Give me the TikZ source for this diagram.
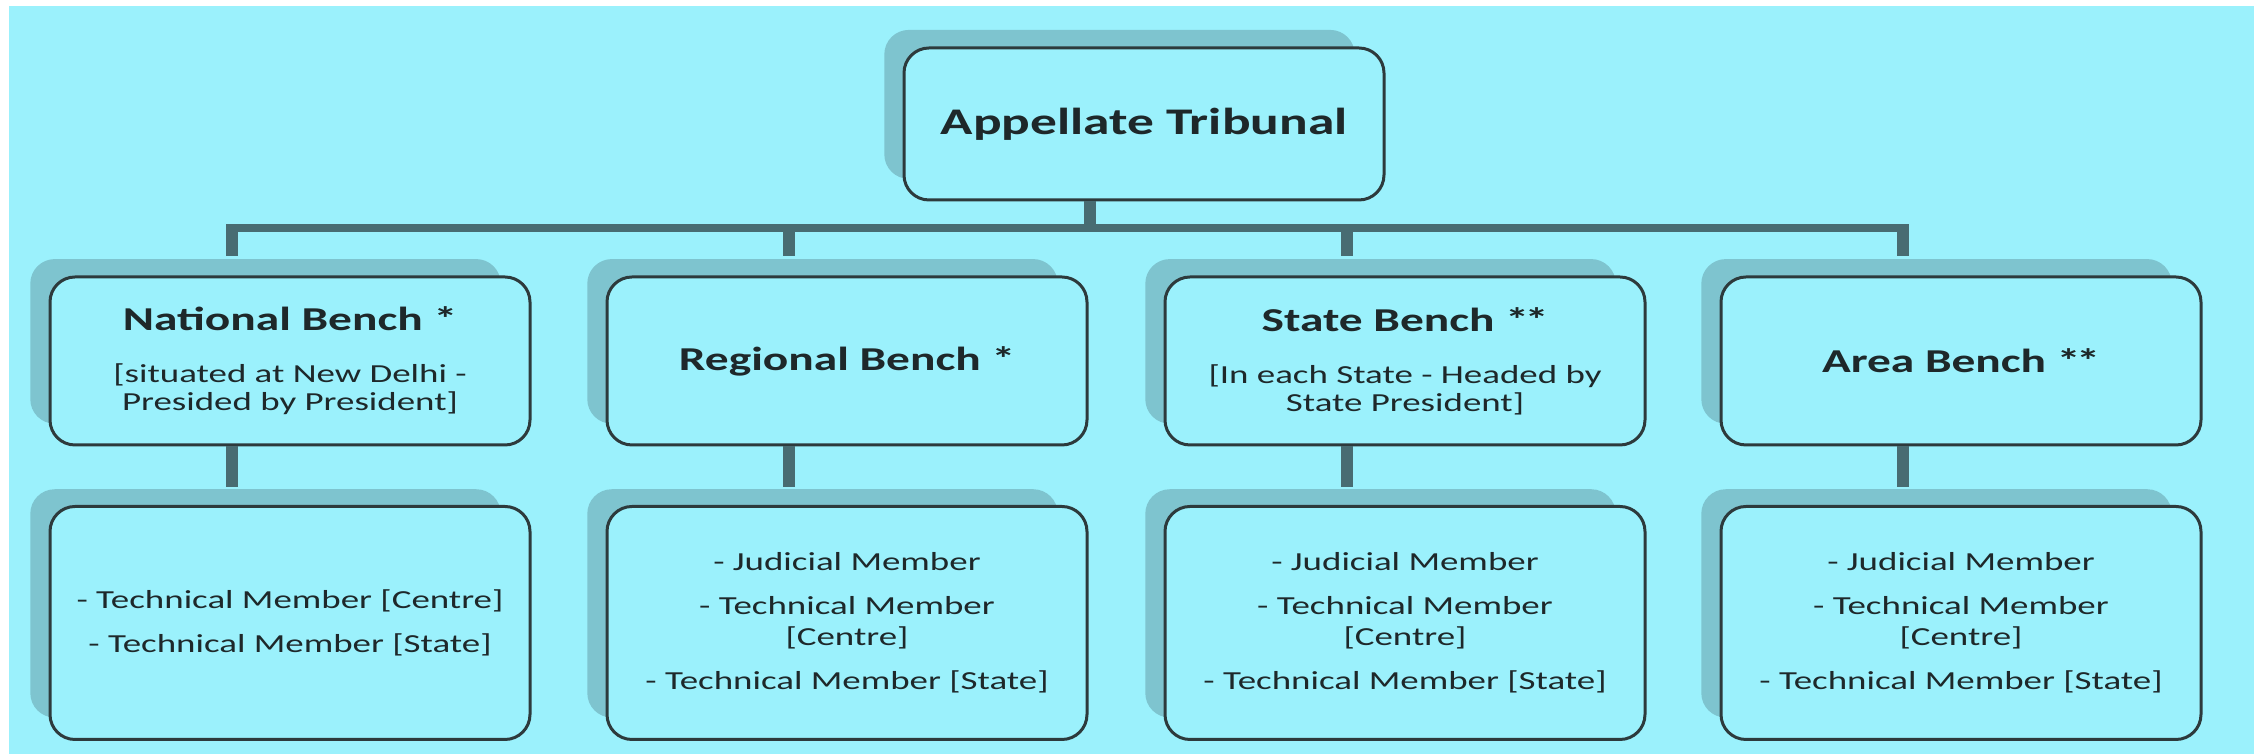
\documentclass[tikz,border=0pt]{standalone}
\usepackage{fontspec}
\setmainfont{Carlito}[FakeStretch=1.42]
\usepackage{xcolor}
\definecolor{tbg}{RGB}{155,241,252}
\definecolor{tshadow}{RGB}{126,196,207}
\definecolor{tline}{RGB}{72,108,114}
\definecolor{tborder}{RGB}{45,58,60}
\definecolor{ttext}{RGB}{30,40,42}
\usetikzlibrary{shadows}

\newcommand{\topfont}{\fontsize{10.7}{12}\selectfont\bfseries}
\newcommand{\headfont}{\fontsize{9.5}{11}\selectfont\bfseries}
\newcommand{\subfont}{\fontsize{7.4}{8}\selectfont}
\newcommand{\memfont}{\fontsize{7.4}{8.8}\selectfont}
\newcommand{\twostars}{*\kern-1.2pt*}

\begin{document}
\begin{tikzpicture}[x=0.1mm, y=-0.1mm,
  tbox/.style={draw=tborder, line width=0.3mm, fill=tbg, rounded corners=2.5mm, minimum width=48mm, inner sep=0pt, align=center, text=ttext,
    drop shadow={shadow xshift=-2.5mm, shadow yshift=2mm, shadow scale=0.98, fill=tshadow, opacity=1}},
  ttop/.style={tbox, minimum height=15.2mm, font=\topfont},
  tbench/.style={tbox, minimum height=16.8mm, font=\subfont},
  tmembers/.style={tbox, minimum height=23.3mm, font=\memfont},
  stem/.style={draw=tline, line width=1.2mm},
  bar/.style={draw=tline, line width=0.8mm}
]
  \useasboundingbox (0,0) rectangle (2260,754);
  \fill[white] (0,0) rectangle (2260,754);
  \fill[tbg] (9,6) rectangle (2254,754);

  %% Top of the tree
  \node[ttop] (at) at (1144,124) {Appellate Tribunal};

  %% Benches
  \node[tbench] (nb) at (290,361) {{\headfont National Bench *}\\[6.8pt][situated at New Delhi -\\Presided by President]};
  \node[tbench] (rb) at (847,361) {{\headfont Regional Bench *}};
  \node[tbench] (sb) at (1405,361) {{\headfont State Bench \twostars}\\[6.8pt][In each State - Headed by\\State President]};
  \node[tbench] (ab) at (1961,361) {{\headfont Area Bench \twostars}};

  %% Members of each bench
  \node[tmembers] (nm) at (290,623) {- Technical Member [Centre]\\[3.7pt]- Technical Member [State]};
  \node[tmembers] (rm) at (847,623) {- Judicial Member\\[3.7pt]- Technical Member\\{[Centre]}\\[3.7pt]- Technical Member [State]};
  \node[tmembers] (sm) at (1405,623) {- Judicial Member\\[3.7pt]- Technical Member\\{[Centre]}\\[3.7pt]- Technical Member [State]};
  \node[tmembers] (am) at (1961,623) {- Judicial Member\\[3.7pt]- Technical Member\\{[Centre]}\\[3.7pt]- Technical Member [State]};

  %% Connectors
  \coordinate (bus) at (0,228);
  \draw[stem] ([xshift=-5.4mm]at.south) -- ([xshift=-5.4mm]at.south |- bus);
  \draw[bar, shorten <=-0.6mm, shorten >=-0.6mm] ([xshift=-5.8mm]nb.north |- bus) -- ([xshift=-5.8mm]ab.north |- bus);
  \foreach \b in {nb,rb,sb,ab}
    \draw[stem] ([xshift=-5.8mm]\b.north |- bus) -- ([xshift=-5.8mm,yshift=1.9mm]\b.north);
  \foreach \b/\m in {nb/nm,rb/rm,sb/sm,ab/am}
    \draw[stem] ([xshift=-5.8mm]\b.south) -- ([xshift=-5.8mm,yshift=1.8mm]\m.north);
\end{tikzpicture}
\end{document}
